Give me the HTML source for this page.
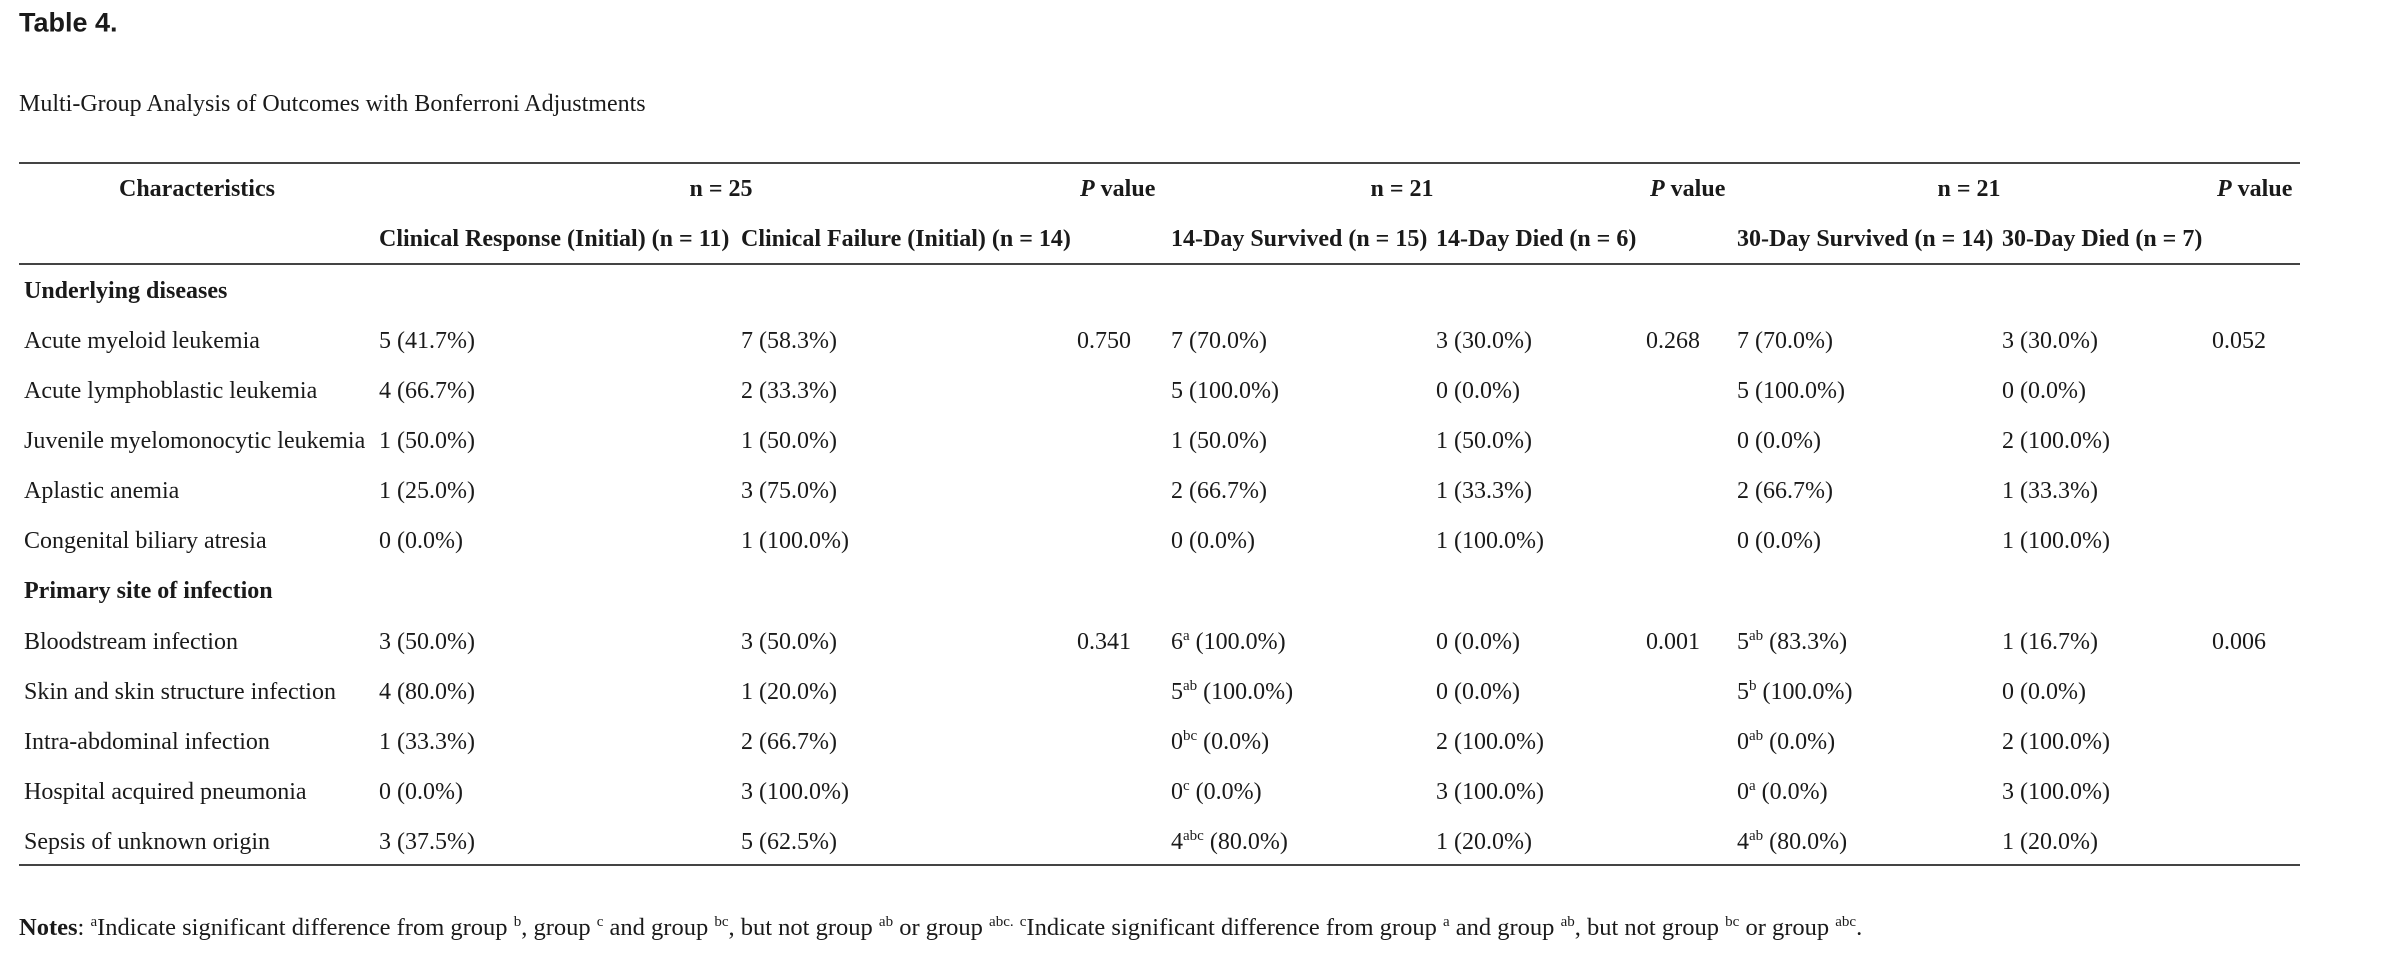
<!DOCTYPE html>
<html><head><meta charset="utf-8"><style>
html,body{margin:0;padding:0;background:#fff;}
body{width:2406px;height:956px;position:relative;overflow:hidden;font-family:"Liberation Serif",serif;color:#1a1a1a;font-size:24px;}
.t{position:absolute;white-space:nowrap;line-height:1;transform:translateY(-50%);}
.b{font-weight:bold;}
.r{position:absolute;left:19px;width:2281px;height:2px;background:#444;}
sup{font-size:15px;vertical-align:9px;line-height:0;}
.c{transform:translate(-50%,-50%);}
</style></head><body>
<div class="t b" style="left:19px;top:23px;font-family:'Liberation Sans',sans-serif;font-size:27px;">Table 4.</div>
<div class="t" style="left:19px;top:104px;font-size:24px;">Multi-Group Analysis of Outcomes with Bonferroni Adjustments</div>
<div class="r" style="top:162px;"></div>
<div class="r" style="top:263px;"></div>
<div class="r" style="top:864px;"></div>

<div class="t b" style="left:119px;top:189px;">Characteristics</div>
<div class="t b c" style="left:721px;top:189px;">n = 25</div>
<div class="t b" style="left:1080px;top:189px;"><i>P</i> value</div>
<div class="t b c" style="left:1402px;top:189px;">n = 21</div>
<div class="t b" style="left:1650px;top:189px;"><i>P</i> value</div>
<div class="t b c" style="left:1969px;top:189px;">n = 21</div>
<div class="t b" style="left:2217px;top:189px;"><i>P</i> value</div>

<div class="t b" style="left:379px;top:239px;">Clinical Response (Initial) (n = 11)</div>
<div class="t b" style="left:741px;top:239px;">Clinical Failure (Initial) (n = 14)</div>
<div class="t b" style="left:1171px;top:239px;">14-Day Survived (n = 15)</div>
<div class="t b" style="left:1436px;top:239px;">14-Day Died (n = 6)</div>
<div class="t b" style="left:1737px;top:239px;">30-Day Survived (n = 14)</div>
<div class="t b" style="left:2002px;top:239px;">30-Day Died (n = 7)</div>

<div class="t b" style="left:24px;top:291px;">Underlying diseases</div>
<div class="t b" style="left:24px;top:591px;">Primary site of infection</div>

<div class="t" style="left:24px;top:341px;">Acute myeloid leukemia</div>
<div class="t" style="left:379px;top:341px;">5 (41.7%)</div>
<div class="t" style="left:741px;top:341px;">7 (58.3%)</div>
<div class="t" style="left:1077px;top:341px;">0.750</div>
<div class="t" style="left:1171px;top:341px;">7 (70.0%)</div>
<div class="t" style="left:1436px;top:341px;">3 (30.0%)</div>
<div class="t" style="left:1646px;top:341px;">0.268</div>
<div class="t" style="left:1737px;top:341px;">7 (70.0%)</div>
<div class="t" style="left:2002px;top:341px;">3 (30.0%)</div>
<div class="t" style="left:2212px;top:341px;">0.052</div>

<div class="t" style="left:24px;top:391px;">Acute lymphoblastic leukemia</div>
<div class="t" style="left:379px;top:391px;">4 (66.7%)</div>
<div class="t" style="left:741px;top:391px;">2 (33.3%)</div>
<div class="t" style="left:1171px;top:391px;">5 (100.0%)</div>
<div class="t" style="left:1436px;top:391px;">0 (0.0%)</div>
<div class="t" style="left:1737px;top:391px;">5 (100.0%)</div>
<div class="t" style="left:2002px;top:391px;">0 (0.0%)</div>

<div class="t" style="left:24px;top:441px;">Juvenile myelomonocytic leukemia</div>
<div class="t" style="left:379px;top:441px;">1 (50.0%)</div>
<div class="t" style="left:741px;top:441px;">1 (50.0%)</div>
<div class="t" style="left:1171px;top:441px;">1 (50.0%)</div>
<div class="t" style="left:1436px;top:441px;">1 (50.0%)</div>
<div class="t" style="left:1737px;top:441px;">0 (0.0%)</div>
<div class="t" style="left:2002px;top:441px;">2 (100.0%)</div>

<div class="t" style="left:24px;top:491px;">Aplastic anemia</div>
<div class="t" style="left:379px;top:491px;">1 (25.0%)</div>
<div class="t" style="left:741px;top:491px;">3 (75.0%)</div>
<div class="t" style="left:1171px;top:491px;">2 (66.7%)</div>
<div class="t" style="left:1436px;top:491px;">1 (33.3%)</div>
<div class="t" style="left:1737px;top:491px;">2 (66.7%)</div>
<div class="t" style="left:2002px;top:491px;">1 (33.3%)</div>

<div class="t" style="left:24px;top:541px;">Congenital biliary atresia</div>
<div class="t" style="left:379px;top:541px;">0 (0.0%)</div>
<div class="t" style="left:741px;top:541px;">1 (100.0%)</div>
<div class="t" style="left:1171px;top:541px;">0 (0.0%)</div>
<div class="t" style="left:1436px;top:541px;">1 (100.0%)</div>
<div class="t" style="left:1737px;top:541px;">0 (0.0%)</div>
<div class="t" style="left:2002px;top:541px;">1 (100.0%)</div>

<div class="t" style="left:24px;top:642px;">Bloodstream infection</div>
<div class="t" style="left:379px;top:642px;">3 (50.0%)</div>
<div class="t" style="left:741px;top:642px;">3 (50.0%)</div>
<div class="t" style="left:1077px;top:642px;">0.341</div>
<div class="t" style="left:1171px;top:642px;">6<sup>a</sup> (100.0%)</div>
<div class="t" style="left:1436px;top:642px;">0 (0.0%)</div>
<div class="t" style="left:1646px;top:642px;">0.001</div>
<div class="t" style="left:1737px;top:642px;">5<sup>ab</sup> (83.3%)</div>
<div class="t" style="left:2002px;top:642px;">1 (16.7%)</div>
<div class="t" style="left:2212px;top:642px;">0.006</div>

<div class="t" style="left:24px;top:692px;">Skin and skin structure infection</div>
<div class="t" style="left:379px;top:692px;">4 (80.0%)</div>
<div class="t" style="left:741px;top:692px;">1 (20.0%)</div>
<div class="t" style="left:1171px;top:692px;">5<sup>ab</sup> (100.0%)</div>
<div class="t" style="left:1436px;top:692px;">0 (0.0%)</div>
<div class="t" style="left:1737px;top:692px;">5<sup>b</sup> (100.0%)</div>
<div class="t" style="left:2002px;top:692px;">0 (0.0%)</div>

<div class="t" style="left:24px;top:742px;">Intra-abdominal infection</div>
<div class="t" style="left:379px;top:742px;">1 (33.3%)</div>
<div class="t" style="left:741px;top:742px;">2 (66.7%)</div>
<div class="t" style="left:1171px;top:742px;">0<sup>bc</sup> (0.0%)</div>
<div class="t" style="left:1436px;top:742px;">2 (100.0%)</div>
<div class="t" style="left:1737px;top:742px;">0<sup>ab</sup> (0.0%)</div>
<div class="t" style="left:2002px;top:742px;">2 (100.0%)</div>

<div class="t" style="left:24px;top:792px;">Hospital acquired pneumonia</div>
<div class="t" style="left:379px;top:792px;">0 (0.0%)</div>
<div class="t" style="left:741px;top:792px;">3 (100.0%)</div>
<div class="t" style="left:1171px;top:792px;">0<sup>c</sup> (0.0%)</div>
<div class="t" style="left:1436px;top:792px;">3 (100.0%)</div>
<div class="t" style="left:1737px;top:792px;">0<sup>a</sup> (0.0%)</div>
<div class="t" style="left:2002px;top:792px;">3 (100.0%)</div>

<div class="t" style="left:24px;top:842px;">Sepsis of unknown origin</div>
<div class="t" style="left:379px;top:842px;">3 (37.5%)</div>
<div class="t" style="left:741px;top:842px;">5 (62.5%)</div>
<div class="t" style="left:1171px;top:842px;">4<sup>abc</sup> (80.0%)</div>
<div class="t" style="left:1436px;top:842px;">1 (20.0%)</div>
<div class="t" style="left:1737px;top:842px;">4<sup>ab</sup> (80.0%)</div>
<div class="t" style="left:2002px;top:842px;">1 (20.0%)</div>

<div class="t" style="left:19px;top:928px;font-size:24.5px;"><b>Notes</b>: <sup>a</sup>Indicate significant difference from group <sup>b</sup>, group <sup>c</sup> and group <sup>bc</sup>, but not group <sup>ab</sup> or group <sup>abc.</sup> <sup>c</sup>Indicate significant difference from group <sup>a</sup> and group <sup>ab</sup>, but not group <sup>bc</sup> or group <sup>abc</sup>.</div>
</body></html>
